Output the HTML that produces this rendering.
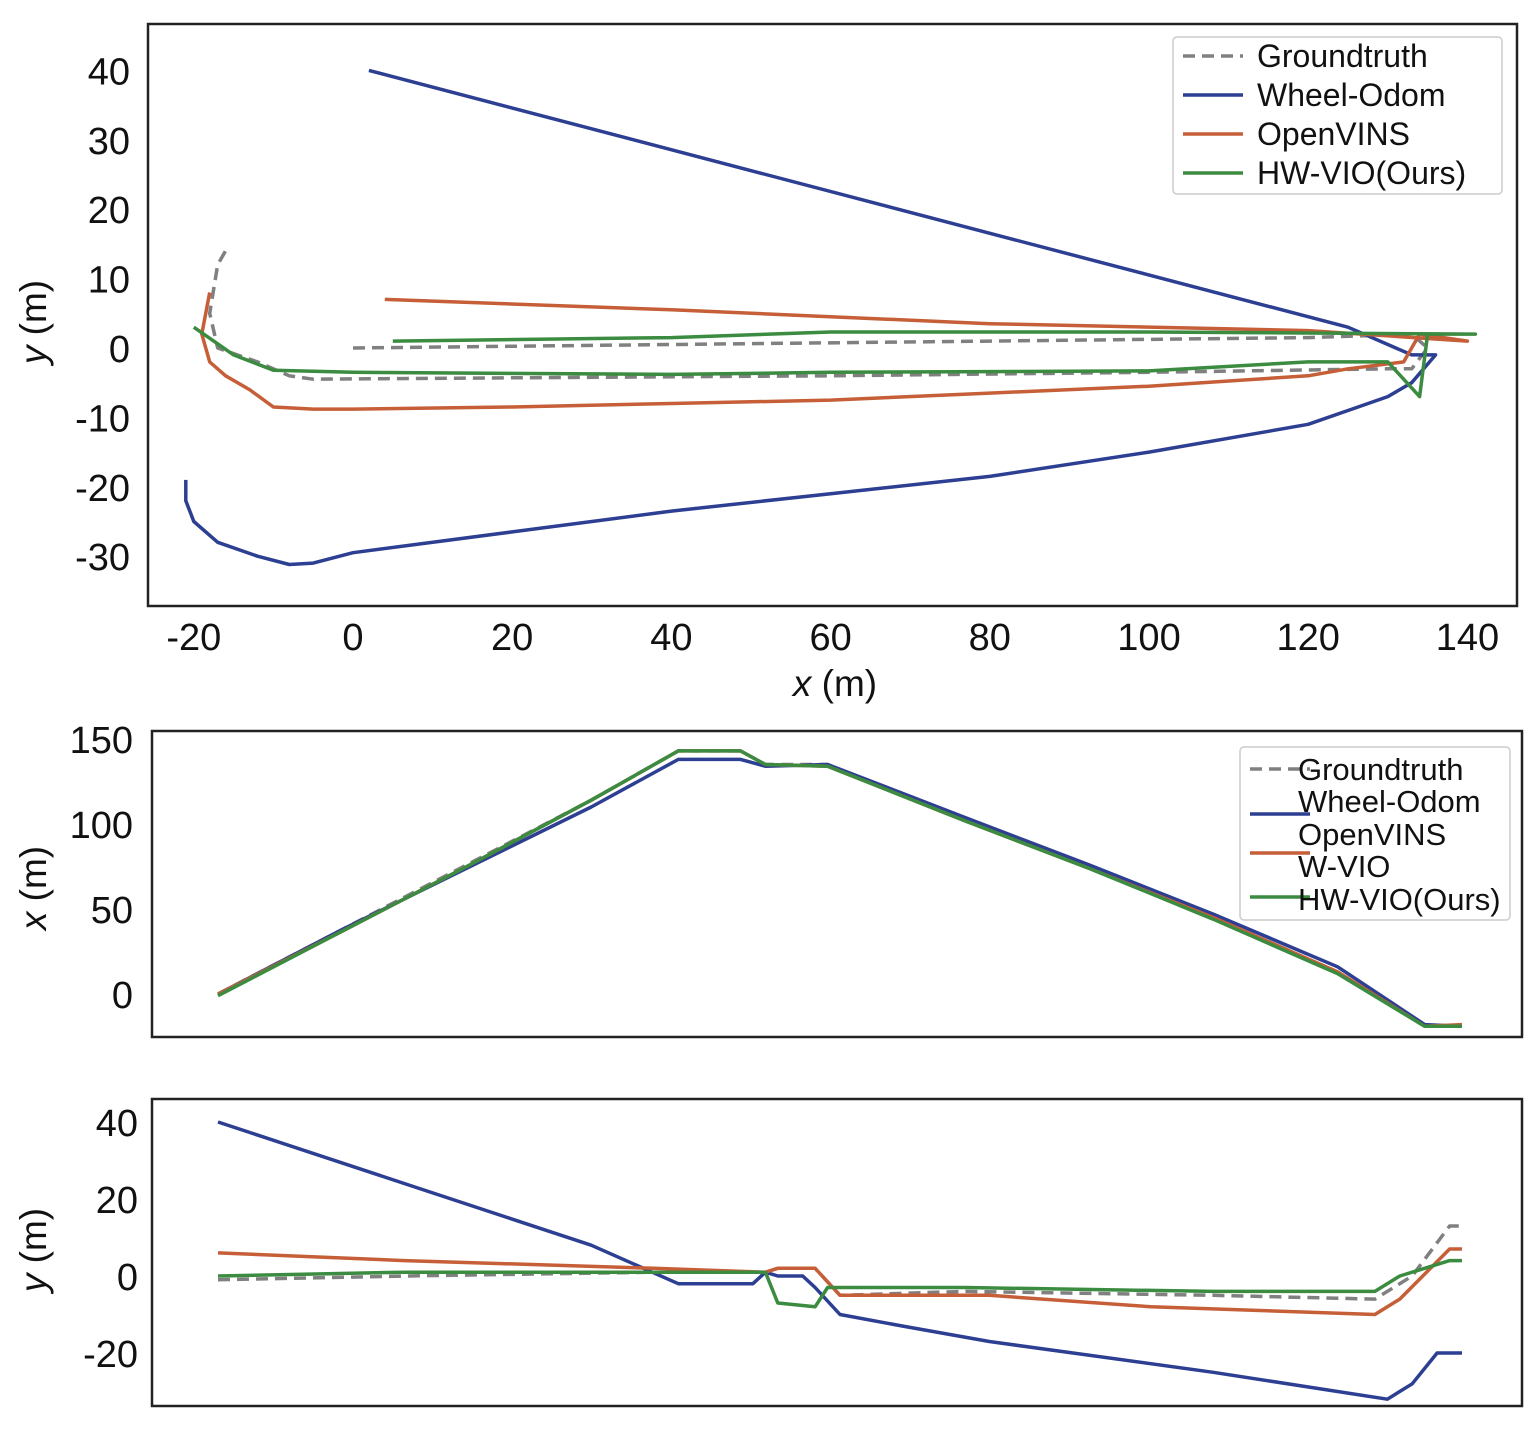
<!DOCTYPE html>
<html><head><meta charset="utf-8"><style>
body{margin:0;background:#fff;}
svg text{font-family:"Liberation Sans",Arial,sans-serif;fill:#111;}
</style></head><body>
<svg id="fig" width="1535" height="1443" xmlns="http://www.w3.org/2000/svg">
<rect width="1535" height="1443" fill="#fff"/>
</svg>
<script>
// ---------- Panel 1 data (x,y in metres) ----------
const p1GtX=[0,40,80,120,133,135,133,130,100,60,20,-5,-8,-12,-17,-18,-17,-16];
const p1GtY=[0,0.5,1,1.5,2,0,-3,-3,-3.5,-4,-4.3,-4.5,-4,-2,0,5,12,14];
const p1WhX=[2,125,133,136,133,130,125,120,115,100,80,60,40,20,0,-5,-8,-12,-17,-20,-21,-21];
const p1WhY=[40,3,-1,-1,-5,-7,-9,-11,-12,-15,-18.5,-21,-23.5,-26.5,-29.5,-31,-31.2,-30,-28,-25,-22,-19];
const p1OvX=[4,40,80,120,140,134,132,125,120,100,80,60,40,20,0,-5,-10,-13,-16,-18,-19,-18];
const p1OvY=[7,5.5,3.5,2.5,1,2,-2,-3,-4,-5.5,-6.5,-7.5,-8,-8.5,-8.8,-8.8,-8.5,-6,-4,-2,2,8];
const p1HwX=[5,40,60,100,141,135,134,130,120,100,60,40,0,-10,-15,-20];
const p1HwY=[1,1.5,2.3,2.3,2,2,-7,-2,-2,-3.3,-3.5,-3.8,-3.5,-3.2,-1,3];
const p1XTicks=[-20,0,20,40,60,80,100,120,140];
const p1YTicks=[40,30,20,10,0,-10,-20,-30];
// ---------- Panel 2 data (x vs time index) ----------
const p2T=[0,10,20,30,37,42,44,49,60,70,80,90,97,100];
const p2Gt=[0,38,76,114,143,143,135,135,103,75,45,13,-19,-19];
const p2Wh=[0,38,74,110,138,138,134,135,104,76,47,16,-18,-19];
const p2Ov=[0,37,75,114,143,143,135,134,102,74,45,13,-19,-18];
const p2Hw=[-1,37,75,114,143,143,135,134,102,74,44,12,-19,-19];
const p2YTicks=[150,100,50,0];
// ---------- Panel 3 data (y vs time index) ----------
const p3WhT=[0,15,30,37,43,44,45,47,48,50,55,62,80,94,96,98,100];
const p3WhV=[40,24,8,-2,-2,1,0,0,-3,-10,-13,-17,-25,-32,-28,-20,-20];
const p3GtT=[0,15,35,44,45,48,50,60,80,93,96,99,100];
const p3GtV=[-1,0,1,1,2,2,-5,-4,-5,-6,0,13,13];
const p3OvT=[0,15,35,44,45,48,50,62,75,93,95,99,100];
const p3OvV=[6,4,2,1,2,2,-5,-5,-8,-10,-6,7,7];
const p3HwT=[0,15,44,45,48,49,60,80,93,95,99,100];
const p3HwV=[0,1,1,-7,-8,-3,-3,-4,-4,0,4,4];
const p3YTicks=[40,20,0,-20];

const NS="http://www.w3.org/2000/svg";
const svg=document.getElementById('fig');
const C={gt:'#808080',wh:'#2d3f92',ov:'#c65f38',hw:'#3b8b40'};
function el(tag,attrs,parent){const e=document.createElementNS(NS,tag);for(const k in attrs)e.setAttribute(k,attrs[k]);(parent||svg).appendChild(e);return e;}
function line(xs,ys,sx,sy,color,dash,name){
  const d=xs.map((v,i)=>(i?'L':'M')+sx(v).toFixed(1)+','+sy(ys[i]).toFixed(1)).join(' ');
  const p=el('path',{d:d,fill:'none',stroke:color,'stroke-width':3.5,'stroke-linejoin':'round'});
  if(dash)p.setAttribute('stroke-dasharray','12,7');
  
  
}
function txt(x,y,s,size,anchor,name){
  const t=el('text',{x:x,y:y,'font-size':size,'text-anchor':anchor||'middle'});
  t.textContent=s;
  
  
  return t;
}
function frame(x,y,w,h,name){
  const r=el('rect',{x:x,y:y,width:w,height:h,fill:'none',stroke:'#222','stroke-width':2.5});
  
  
}
function legend(x,y,w,h,entries,size,name){
  const g=el('g',{});
  
  
  el('rect',{x:x,y:y,width:w,height:h,fill:'#fff',stroke:'#ccc','stroke-width':1.5,rx:4},g);
  entries.forEach(e=>{
    if(e.c){const ly=y+(e.ly!==undefined?e.ly:e.dy);const l=el('line',{x1:x+10,x2:x+70,y1:ly,y2:ly,stroke:e.c,'stroke-width':3.5},g);if(e.dash)l.setAttribute('stroke-dasharray','12,7');}
    const t=el('text',{x:x+e.tx,y:y+e.dy+e.ty,'font-size':size},g);
    t.textContent=e.t;
    
    
  });
}
function vtitle(cx,cy,v,name){
  const t2=el('text',{x:0,y:0,'font-size':37,'text-anchor':'middle',transform:'translate('+cx+','+cy+') rotate(-90)'});
  t2.innerHTML='<tspan font-style="italic">'+v+'</tspan> (m)';
  
  
}

// ---- Panel 1 ----
const sx1=v=>353+v*7.96, sy1=v=>348-v*6.94;
line(p1GtX,p1GtY,sx1,sy1,C.gt,true,'groundtruth-xy-line');
line(p1WhX,p1WhY,sx1,sy1,C.wh,false,'wheel-odom-xy-line');
line(p1OvX,p1OvY,sx1,sy1,C.ov,false,'openvins-xy-line');
line(p1HwX,p1HwY,sx1,sy1,C.hw,false,'hw-vio-xy-line');
frame(148,24,1369,582,'xy-plot-frame');
p1XTicks.forEach(v=>txt(sx1(v),650,String(v),38,'middle','x-tick-label'));
p1YTicks.forEach(v=>txt(130,sy1(v)+14,String(v),38,'end','y-tick-label'));
(function(){const t=el('text',{x:835,y:696,'font-size':37,'text-anchor':'middle'});t.innerHTML='<tspan font-style="italic">x</tspan> (m)';})();
vtitle(46,322,'y','y-axis-title');
legend(1173,37,329,157,[
 {t:'Groundtruth',c:C.gt,dash:true,dy:19,tx:84,ty:11},
 {t:'Wheel-Odom',c:C.wh,dy:58,tx:84,ty:11},
 {t:'OpenVINS',c:C.ov,dy:97,tx:84,ty:11},
 {t:'HW-VIO(Ours)',c:C.hw,dy:136,tx:84,ty:11}],32,'xy-legend');

// ---- Panel 2 ----
const sx2=v=>218+v*12.44, sy2=v=>994-v*1.7;
line(p2T,p2Gt,sx2,sy2,C.gt,true,'groundtruth-x-line');
line(p2T,p2Wh,sx2,sy2,C.wh,false,'wheel-odom-x-line');
line(p2T,p2Ov,sx2,sy2,C.ov,false,'openvins-x-line');
line(p2T,p2Hw,sx2,sy2,C.hw,false,'hw-vio-x-line');
frame(152,731,1370,306,'x-time-frame');
p2YTicks.forEach(v=>txt(133,sy2(v)+14,String(v),38,'end','x-time-y-tick'));
vtitle(46,888,'x','x-time-y-title');
legend(1240,747,270,173,[
 {t:'Groundtruth',c:C.gt,dash:true,dy:22,tx:58,ty:11},
 {t:'Wheel-Odom',c:C.wh,dy:54,ly:67,tx:58,ty:11},
 {t:'OpenVINS',dy:87,tx:58,ty:11},
 {t:'W-VIO',c:C.ov,dy:119,ly:106,tx:58,ty:11},
 {t:'HW-VIO(Ours)',c:C.hw,dy:152,ly:150,tx:58,ty:11}],31,'x-time-legend');

// ---- Panel 3 ----
const sy3=v=>1276-v*3.85;
line(p3GtT,p3GtV,sx2,sy3,C.gt,true,'groundtruth-y-line');
line(p3WhT,p3WhV,sx2,sy3,C.wh,false,'wheel-odom-y-line');
line(p3OvT,p3OvV,sx2,sy3,C.ov,false,'openvins-y-line');
line(p3HwT,p3HwV,sx2,sy3,C.hw,false,'hw-vio-y-line');
frame(152,1099,1370,307,'y-time-frame');
p3YTicks.forEach(v=>txt(138,sy3(v)+14,String(v),38,'end','y-time-y-tick'));
vtitle(46,1250,'y','y-time-y-title');
</script>
</body></html>
